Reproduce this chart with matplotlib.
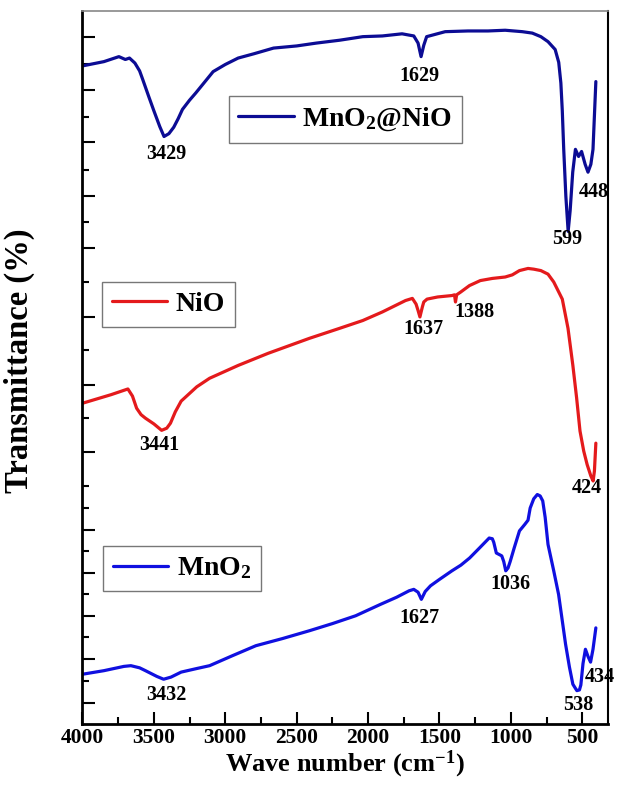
import matplotlib
matplotlib.use("Agg")
import matplotlib.pyplot as plt
import numpy as np

# FTIR spectra, transmittance in arbitrary offset units
wn_composite = [4000, 3850, 3745, 3700, 3671, 3633, 3600, 3580, 3536, 3500, 3459, 3429, 3395,
                3361, 3330, 3300, 3250, 3207, 3150, 3085, 3000, 2910, 2800, 2662, 2500, 2362,
                2200, 2037, 1900, 1762, 1680, 1650, 1629, 1610, 1590, 1460, 1300, 1160, 1040,
                920, 850, 790, 740, 690, 665, 650, 640, 630, 615, 599, 585, 567, 548, 526, 505,
                480, 460, 440, 425, 405]
t_composite = [92.3, 92.9, 93.6, 93.2, 93.4, 92.7, 91.6, 90.5, 88.0, 86.0, 83.8, 82.4, 82.8,
               83.7, 84.9, 86.2, 87.5, 88.5, 89.9, 91.5, 92.5, 93.4, 94.0, 94.8, 95.1, 95.5,
               95.9, 96.4, 96.5, 96.8, 96.5, 95.5, 93.6, 95.2, 96.4, 97.1, 97.2, 97.2, 97.3,
               97.1, 96.9, 96.4, 95.7, 94.6, 92.8, 89.9, 86.0, 80.6, 74.0, 69.1, 72.0, 77.4,
               80.6, 79.6, 80.3, 78.5, 77.4, 78.5, 80.6, 90.1]

wn_nio = [4000, 3800, 3682, 3650, 3621, 3590, 3559, 3500, 3446, 3410, 3384, 3350, 3309, 3200,
          3110, 2910, 2700, 2411, 2200, 2037, 1900, 1738, 1690, 1664, 1650, 1637, 1620, 1610,
          1587, 1513, 1413, 1395, 1388, 1380, 1351, 1290, 1214, 1130, 1040, 990, 940, 880,
          840, 790, 740, 700, 640, 600, 566, 540, 516, 490, 466, 440, 424, 415, 405]
t_nio = [45.0, 46.2, 47.0, 46.0, 44.3, 43.4, 42.9, 42.1, 41.2, 41.5, 42.2, 43.8, 45.3, 47.3,
         48.5, 50.3, 52.0, 54.1, 55.5, 56.6, 57.8, 59.4, 59.7, 58.9, 58.0, 57.1, 58.5, 59.2,
         59.6, 59.9, 60.1, 60.2, 59.2, 60.2, 60.6, 61.5, 62.2, 62.5, 62.7, 63.0, 63.6, 63.9,
         63.8, 63.6, 63.1, 62.0, 59.6, 55.5, 50.3, 45.8, 41.1, 38.3, 36.4, 34.8, 34.1, 35.5,
         39.4]

wn_mno2 = [4000, 3850, 3710, 3661, 3600, 3559, 3480, 3432, 3380, 3309, 3200, 3110, 2950, 2786,
           2600, 2411, 2250, 2087, 1913, 1800, 1713, 1680, 1650, 1627, 1600, 1563, 1500, 1413,
           1350, 1289, 1220, 1152, 1130, 1120, 1102, 1064, 1050, 1036, 1020, 1005, 977, 940,
           903, 880, 865, 840, 815, 795, 777, 760, 740, 700, 666, 617, 590, 566, 538, 520,
           510, 495, 478, 460, 442, 425, 405]
t_mno2 = [7.0, 7.5, 8.1, 8.2, 7.9, 7.5, 6.7, 6.3, 6.6, 7.3, 7.8, 8.2, 9.6, 11.0,
          12.0, 13.1, 14.1, 15.2, 16.8, 17.8, 18.7, 18.9, 18.5, 17.5, 18.6, 19.4, 20.3, 21.5,
          22.3, 23.3, 24.7, 26.1, 26.0, 25.5, 24.0, 23.6, 22.8, 21.5, 21.9, 22.8, 24.7, 27.1,
          28.0, 28.6, 30.3, 31.6, 32.2, 32.0, 31.3, 29.0, 25.2, 21.5, 18.2, 11.2, 8.0, 5.6,
          4.7, 4.8, 5.5, 8.5, 10.5, 9.5, 8.7, 10.5, 13.5]

# peak labels: text, x (cm-1), y
peak_labels = ["3429", "1629", "599", "448",
               "3441", "1637", "1388", "424",
               "3432", "1627", "1036", "538", "434"]
peak_x = [3410, 1638, 603, 421,
          3459, 1615, 1252, 466,
          3410, 1638, 1002, 529, 379]
peak_y = [80.0, 90.9, 68.0, 74.6,
          39.1, 55.4, 57.8, 33.1,
          4.1, 14.9, 19.6, 2.7, 6.6]

yt_major = [96.3, 88.9, 81.6, 74.0, 66.7, 57.1, 47.6, 38.1, 27.2, 21.2, 15.2, 9.1, 2.9]
yt_minor = [92.6, 85.2, 77.7, 70.4, 62.0, 52.4, 42.9, 33.4, 30.3, 24.3, 18.2, 12.2, 6.1]

plt.rcParams['font.family'] = ['Liberation Serif', 'DejaVu Serif']
plt.rcParams['font.weight'] = 'bold'
plt.rcParams['mathtext.fontset'] = 'custom'
plt.rcParams['mathtext.rm'] = 'Liberation Serif:bold'
plt.rcParams['mathtext.it'] = 'Liberation Serif:bold'
plt.rcParams['mathtext.bf'] = 'Liberation Serif:bold'

fig = plt.figure(figsize=(6.17, 7.85), dpi=100)
ax = fig.add_axes([0.1337, 0.0775, 0.8517, 0.9085])

line_kw = dict(lw=2.3, solid_joinstyle='round', solid_capstyle='round')
l1, = ax.plot(wn_composite, t_composite, color='#0c0c94', **line_kw)
l2, = ax.plot(wn_nio, t_nio, color='#e41a1c', **line_kw)
l3, = ax.plot(wn_mno2, t_mno2, color='#1010e0', **line_kw)

for s, x, y in zip(peak_labels, peak_x, peak_y):
    ax.text(x, y, s, ha='center', va='center', fontsize=14.5, fontweight='bold')

ax.set_xlim(4000, 320)
ax.set_ylim(0, 100)
ax.set_xticks(np.arange(4000, 499, -500))
ax.set_xticks(np.arange(3750, 700, -500), minor=True)
ax.set_yticks(yt_major)
ax.set_yticks(yt_minor, minor=True)
ax.set_yticklabels([])
ax.tick_params(axis='both', which='both', direction='in', top=False, right=False, width=1.5)
ax.tick_params(which='major', length=9)
ax.tick_params(which='minor', length=5)
ax.tick_params(axis='x', labelsize=15.5, pad=3)
for lab in ax.get_xticklabels():
    lab.set_fontweight('bold')

ax.spines['left'].set_linewidth(2)
ax.spines['bottom'].set_linewidth(2)
ax.spines['right'].set_linewidth(1.5)
ax.spines['top'].set_linewidth(1.2)
ax.spines['top'].set_color('#888888')

ax.set_xlabel('Wave number (cm$^{-1}$)', fontsize=19, fontweight='bold', labelpad=0)
ax.set_ylabel('Transmittance (%)', fontsize=23.5, fontweight='bold')
ax.yaxis.set_label_coords(-0.09, 0.51)

legend_kw = dict(loc='upper left', bbox_transform=fig.transFigure, fancybox=False,
                 edgecolor='#777777', framealpha=1, borderaxespad=0, handlelength=2.0,
                 handletextpad=0.3, borderpad=0.35, prop={'size': 20, 'weight': 'bold'})
leg1 = ax.legend([l1], ['MnO$_2$@NiO'], bbox_to_anchor=(0.3705, 0.878), **legend_kw)
ax.add_artist(leg1)
leg2 = ax.legend([l2], ['NiO'], bbox_to_anchor=(0.1653, 0.6408), **legend_kw)
ax.add_artist(leg2)
leg3 = ax.legend([l3], ['MnO$_2$'], bbox_to_anchor=(0.167, 0.3048), **legend_kw)
for lg in (leg1, leg2, leg3):
    lg.get_frame().set_linewidth(1.0)

fig.savefig('out.png', dpi=100)
